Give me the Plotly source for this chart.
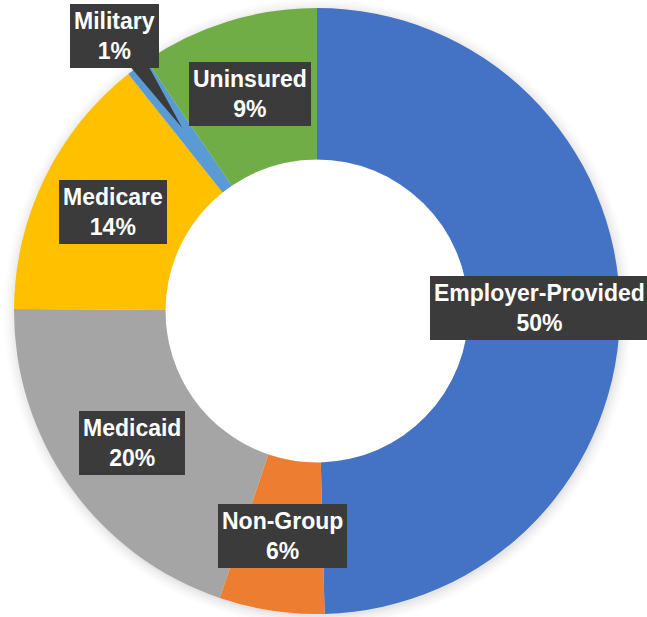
import math
import plotly.graph_objects as go

# ---- data ----
categories = ["Employer-Provided", "Non-Group", "Medicaid", "Medicare", "Military", "Uninsured"]
values = [49.6, 5.6, 19.9, 14.2, 1.2, 9.5]
pct_labels = ["50%", "6%", "20%", "14%", "1%", "9%"]
colors = ["#4472C4", "#ED7D31", "#A5A5A5", "#FFC000", "#5B9BD5", "#70AD47"]

W, H = 647, 617
# desired page geometry of the donut (pixels)
cx, cy, R = 317, 311, 303
HOLE = 0.5
LABEL_R = 0.75
BOX = "#3B3B3B"
FONT_SIZE = 23
MAX_LABEL_CX = W - 108  # keep the widest label's text inside the page

dom_x = [(cx - R) / W, (cx + R) / W]
dom_y = [(H - cy - R) / H, (H - cy + R) / H]


def to_paper(x, y):
    return x / W, 1 - y / H


fig = go.Figure(go.Pie(
    labels=categories, values=values, hole=HOLE, sort=False,
    direction="clockwise", rotation=0,
    marker=dict(colors=colors, line=dict(width=0)),
    textinfo="none", hoverinfo="label+percent", showlegend=False,
    domain=dict(x=dom_x, y=dom_y),
))


def circle(rr, dx, dy, fill, layer="below"):
    x0, y0 = to_paper(cx - rr + dx, cy + rr + dy)
    x1, y1 = to_paper(cx + rr + dx, cy - rr + dy)
    return dict(type="circle", xref="paper", yref="paper", x0=x0, y0=y0, x1=x1, y1=y1,
                fillcolor=fill, line=dict(width=0), layer=layer)


shapes = []
# soft outer shadow
for i, a in enumerate([0.03, 0.025, 0.02, 0.015, 0.01]):
    shapes.append(circle(R + 1 + i * 2.5, 1, 2, f"rgba(0,0,0,{a})"))
# keep hole white
shapes.append(circle(R * HOLE, 0, 0, "white"))

annotations = []
total = sum(values)
cum = 0.0
for cat, v, p in zip(categories, values, pct_labels):
    mid = (cum + v / 2) / total * 360.0
    cum += v
    th = math.radians(mid)
    lx = cx + LABEL_R * R * math.sin(th)
    ly = cy - LABEL_R * R * math.cos(th)
    text = f"<b>{cat}<br>{p}</b>"
    if cat == "Military":
        # callout moved outward with a pointer to the slice
        bx, by = lx - 68, ly - 92
        tip = to_paper(lx, ly)
        b1 = to_paper(bx + 12, by + 26)
        b2 = to_paper(bx + 32, by + 26)
        shapes.append(dict(type="path", xref="paper", yref="paper",
                           path=f"M {b1[0]},{b1[1]} L {b2[0]},{b2[1]} L {tip[0]},{tip[1]} Z",
                           fillcolor=BOX, line=dict(width=0), layer="above"))
        lx, ly = bx, by
    lx = min(lx, MAX_LABEL_CX)
    ax, ay = to_paper(lx, ly)
    annotations.append(dict(
        x=ax, y=ay, xref="paper", yref="paper", text=text, showarrow=False,
        xanchor="center", yanchor="middle", align="center",
        font=dict(family="Liberation Sans, Arial, sans-serif", size=FONT_SIZE, color="white"),
        bgcolor=BOX, borderpad=3, bordercolor=BOX, borderwidth=1,
    ))

fig.update_layout(
    width=W, height=H, margin=dict(l=0, r=0, t=0, b=0),
    paper_bgcolor="white", plot_bgcolor="white",
    shapes=shapes, annotations=annotations,
)

fig.write_html("out.html", config={"displayModeBar": False},
               post_script="document.body.style.margin='0px';")
